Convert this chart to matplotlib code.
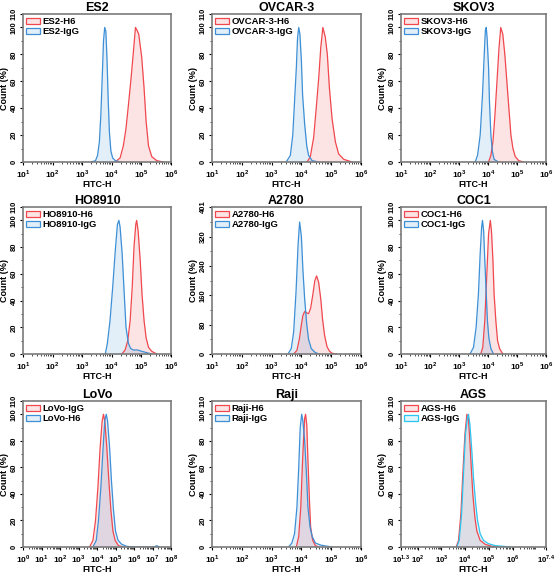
import matplotlib
matplotlib.use("Agg")
import matplotlib.pyplot as plt
import numpy as np
from matplotlib.ticker import FixedLocator, LogLocator, NullFormatter
from matplotlib.patches import Patch

plt.rcParams['font.family'] = ['Liberation Sans', 'DejaVu Sans']
plt.rcParams['font.weight'] = 'bold'
plt.rcParams['mathtext.fontset'] = 'custom'
plt.rcParams['mathtext.rm'] = 'Liberation Sans:bold'
plt.rcParams['mathtext.bf'] = 'Liberation Sans:bold'

RED = '#f0484e'
BLUE = '#3d8fd6'
CYAN = '#2ec4f0'

titles = ['ES2', 'OVCAR-3', 'SKOV3', 'HO8910', 'A2780', 'COC1', 'LoVo', 'Raji', 'AGS']

# log10(FITC-H) positions and counts for each histogram
es2_h6_x = [4.11, 4.28, 4.39, 4.48, 4.56, 4.65, 4.73, 4.80, 4.85, 4.91, 5.01, 5.09, 5.16, 5.24, 5.35, 5.52, 5.74]
es2_h6_y = [0, 3, 12, 25, 42, 62, 82, 100, 98, 95, 78, 55, 30, 12, 4, 1, 0]
es2_igg_x = [3.30, 3.45, 3.52, 3.58, 3.63, 3.68, 3.72, 3.76, 3.80, 3.84, 3.88, 3.92, 3.97, 4.03, 4.12, 4.30]
es2_igg_y = [0, 1, 5, 15, 35, 65, 90, 100, 97, 75, 45, 22, 8, 3, 1, 0]

ovcar_h6_x = [4.19, 4.30, 4.41, 4.49, 4.58, 4.65, 4.72, 4.80, 4.87, 4.94, 5.03, 5.14, 5.25, 5.42, 5.70]
ovcar_h6_y = [0, 4, 18, 38, 62, 85, 100, 93, 80, 55, 32, 15, 6, 2, 0]
ovcar_igg_x = [3.49, 3.63, 3.71, 3.77, 3.83, 3.87, 3.91, 3.95, 4.00, 4.04, 4.11, 4.18, 4.24, 4.36, 4.58]
ovcar_igg_y = [0, 5, 20, 45, 70, 92, 100, 95, 75, 50, 28, 12, 5, 1, 0]

skov_h6_x = [4.02, 4.10, 4.17, 4.24, 4.31, 4.38, 4.44, 4.51, 4.58, 4.65, 4.72, 4.79, 4.86, 4.94, 5.06, 5.23]
skov_h6_y = [0, 5, 15, 35, 60, 85, 100, 95, 80, 60, 40, 20, 10, 4, 1, 0]
skov_igg_x = [3.56, 3.64, 3.73, 3.81, 3.87, 3.91, 3.94, 3.97, 4.02, 4.05, 4.10, 4.15, 4.21, 4.36]
skov_igg_y = [0, 5, 20, 50, 80, 98, 100, 92, 70, 45, 20, 8, 2, 0]

ho_h6_x = [4.34, 4.45, 4.54, 4.62, 4.69, 4.75, 4.81, 4.84, 4.89, 4.96, 5.02, 5.09, 5.16, 5.24, 5.35, 5.52]
ho_h6_y = [0, 3, 10, 25, 50, 80, 97, 100, 92, 70, 45, 25, 12, 5, 2, 0]
ho_igg_x = [3.78, 3.85, 3.94, 4.03, 4.12, 4.19, 4.24, 4.28, 4.35, 4.42, 4.48, 4.56, 4.64, 4.73, 4.87, 5.01, 5.18, 5.35]
ho_igg_y = [0, 8, 25, 50, 78, 97, 100, 95, 75, 45, 20, 8, 4, 3, 3, 2, 1, 0]

a2780_h6_x = [3.74, 3.85, 3.93, 4.00, 4.05, 4.11, 4.18, 4.24, 4.31, 4.38, 4.45, 4.51, 4.58, 4.65, 4.71, 4.78, 4.86, 4.94, 5.03, 5.19]
a2780_h6_y = [0, 10, 40, 80, 105, 116, 112, 110, 125, 160, 200, 213, 195, 150, 95, 50, 20, 8, 2, 0]
a2780_igg_x = [3.55, 3.66, 3.74, 3.82, 3.89, 3.94, 4.00, 4.05, 4.11, 4.18, 4.24, 4.33, 4.45, 4.58]
a2780_igg_y = [0, 15, 60, 170, 300, 360, 320, 230, 150, 80, 40, 15, 5, 0]

coc_h6_x = [3.75, 3.82, 3.89, 3.96, 4.02, 4.08, 4.12, 4.17, 4.21, 4.27, 4.33, 4.40, 4.51]
coc_h6_y = [0, 5, 25, 60, 90, 100, 92, 70, 45, 25, 10, 4, 0]
coc_igg_x = [3.38, 3.50, 3.59, 3.67, 3.73, 3.78, 3.81, 3.85, 3.89, 3.94, 3.98, 4.03, 4.10, 4.19]
coc_igg_y = [0, 5, 20, 45, 75, 95, 100, 92, 70, 45, 25, 12, 4, 0]

lovo_igg_x = [3.60, 3.78, 3.92, 4.05, 4.17, 4.28, 4.35, 4.42, 4.53, 4.64, 4.75, 4.86, 4.98, 5.16, 5.43]
lovo_igg_y = [0, 5, 20, 45, 75, 95, 100, 95, 75, 50, 28, 12, 5, 1, 0]
lovo_h6_x = [3.78, 3.96, 4.08, 4.21, 4.33, 4.42, 4.50, 4.57, 4.68, 4.78, 4.89, 5.00, 5.14, 5.34, 5.61, 5.97, 7.10, 7.23, 7.36]
lovo_h6_y = [0, 5, 20, 45, 75, 95, 100, 95, 75, 50, 28, 12, 5, 2, 0.5, 0, 0, 1, 0]

raji_h6_x = [3.83, 3.91, 3.98, 4.03, 4.08, 4.11, 4.14, 4.18, 4.22, 4.27, 4.31, 4.38, 4.47, 4.58]
raji_h6_y = [0, 8, 30, 60, 85, 97, 100, 92, 65, 35, 15, 5, 1, 0]
raji_igg_x = [3.57, 3.68, 3.77, 3.85, 3.91, 3.96, 4.01, 4.05, 4.11, 4.17, 4.22, 4.29, 4.36, 4.47, 4.64, 4.80, 5.03]
raji_igg_y = [0, 3, 10, 30, 60, 90, 100, 95, 80, 55, 30, 15, 8, 3, 1.5, 0.8, 0]

ags_h6_x = [3.62, 3.72, 3.82, 3.90, 3.99, 4.07, 4.13, 4.18, 4.25, 4.32, 4.41, 4.49, 4.63, 4.84, 5.13, 5.34]
ags_h6_y = [0, 5, 25, 55, 85, 100, 98, 85, 62, 40, 22, 12, 5, 2, 0.5, 0]
ags_igg_x = [3.65, 3.75, 3.85, 3.93, 4.01, 4.10, 4.14, 4.20, 4.27, 4.35, 4.44, 4.52, 4.63, 4.77, 4.98, 5.27, 5.62, 5.90]
ags_igg_y = [0, 5, 25, 55, 85, 98, 100, 92, 75, 52, 33, 20, 10, 5, 2.5, 1, 0.5, 0]

panels = [
    [('ES2-H6', es2_h6_x, es2_h6_y, RED), ('ES2-IgG', es2_igg_x, es2_igg_y, BLUE)],
    [('OVCAR-3-H6', ovcar_h6_x, ovcar_h6_y, RED), ('OVCAR-3-IgG', ovcar_igg_x, ovcar_igg_y, BLUE)],
    [('SKOV3-H6', skov_h6_x, skov_h6_y, RED), ('SKOV3-IgG', skov_igg_x, skov_igg_y, BLUE)],
    [('HO8910-H6', ho_h6_x, ho_h6_y, RED), ('HO8910-IgG', ho_igg_x, ho_igg_y, BLUE)],
    [('A2780-H6', a2780_h6_x, a2780_h6_y, RED), ('A2780-IgG', a2780_igg_x, a2780_igg_y, BLUE)],
    [('COC1-H6', coc_h6_x, coc_h6_y, RED), ('COC1-IgG', coc_igg_x, coc_igg_y, BLUE)],
    [('LoVo-IgG', lovo_igg_x, lovo_igg_y, RED), ('LoVo-H6', lovo_h6_x, lovo_h6_y, BLUE)],
    [('Raji-H6', raji_h6_x, raji_h6_y, RED), ('Raji-IgG', raji_igg_x, raji_igg_y, BLUE)],
    [('AGS-H6', ags_h6_x, ags_h6_y, RED), ('AGS-IgG', ags_igg_x, ags_igg_y, CYAN)],
]

xlims = [(1, 6)] * 6 + [(0, 8), (1, 6), (1.3, 7.4)]
xticks = [[1, 2, 3, 4, 5, 6]] * 6 + [[0, 1, 2, 3, 4, 5, 6, 7, 8], [1, 2, 3, 4, 5, 6], [1.3, 2, 3, 4, 5, 6, 7.4]]
xticklabels_ags = ['$10^{1.3}$', '$10^{2}$', '$10^{3}$', '$10^{4}$', '$10^{5}$', '$10^{6}$', '$10^{7.4}$']
ylims = [110] * 4 + [401] + [110] * 4
yticks_std = [0, 20, 40, 60, 80, 100, 110]
yticks_a2780 = [0, 80, 160, 240, 320, 401]

fig = plt.figure(figsize=(5.6, 5.75), dpi=100)
lefts = [23, 212, 401]
widths = [148, 149, 145]
tops = [14, 207, 401]
heights = [148, 147, 146]
W, H = 560, 575

for i in range(9):
    r, c = divmod(i, 3)
    ax = fig.add_axes([lefts[c] / W, 1 - (tops[r] + heights[r]) / H, widths[c] / W, heights[r] / H])
    handles = []
    for lab, xs, ys, col in panels[i]:
        xv = 10 ** np.array(xs)
        ax.fill_between(xv, 0, ys, color=col, alpha=0.15, lw=0)
        ax.plot(xv, ys, color=col, lw=0.9)
        handles.append(Patch(facecolor=matplotlib.colors.to_rgba(col, 0.15), edgecolor=col, lw=0.9, label=lab))
    ax.set_xscale('log')
    lo, hi = xlims[i]
    ax.set_xlim(10 ** lo, 10 ** hi)
    ax.set_ylim(0, ylims[i])
    ticks = xticks[i]
    ax.xaxis.set_major_locator(FixedLocator([10 ** t for t in ticks]))
    if i == 8:
        ax.set_xticklabels(xticklabels_ags)
    else:
        ax.set_xticklabels(['$10^{%d}$' % t for t in ticks])
    ax.xaxis.set_minor_locator(LogLocator(base=10, subs=np.arange(2, 10), numticks=20))
    ax.xaxis.set_minor_formatter(NullFormatter())
    yt = yticks_a2780 if i == 4 else yticks_std
    ax.set_yticks(yt)
    ax.set_yticklabels([str(v) for v in yt], rotation=90, va='center', fontsize=5.5, fontweight='bold')
    ax.yaxis.set_minor_locator(FixedLocator(
        [v for v in (np.arange(40, 401, 80) if i == 4 else np.arange(10, 110, 20))]))
    xfs = 5.6 if i == 8 else 6
    ax.tick_params(axis='x', which='major', labelsize=xfs, length=2.5, width=0.8, pad=1.5)
    ax.tick_params(axis='y', which='major', labelsize=5.5, length=2.5, width=0.8, pad=1.5)
    ax.tick_params(which='minor', length=1.5, width=0.5)
    for s in ax.spines.values():
        s.set_color('#7a7a7a')
        s.set_linewidth(1.2)
    ax.set_title(titles[i], fontsize=9, fontweight='bold', pad=1.5)
    ax.set_xlabel('FITC-H', fontsize=6.5, fontweight='bold', labelpad=0.5)
    ax.set_ylabel('Count (%)', fontsize=6.5, fontweight='bold', labelpad=1)
    leg = ax.legend(handles=handles, loc='upper left', fontsize=6.8, frameon=False,
                    handlelength=1.4, handleheight=0.6, handletextpad=0.35,
                    borderaxespad=0.15, borderpad=0.2, labelspacing=0.1)
    for t in leg.get_texts():
        t.set_fontweight('bold')

fig.savefig('out.png', dpi=100)
